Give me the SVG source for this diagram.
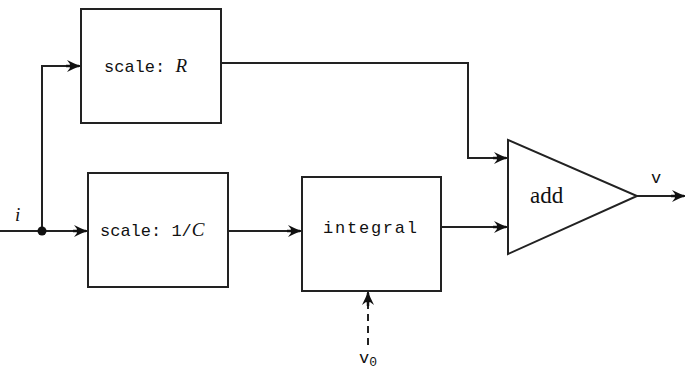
<svg xmlns="http://www.w3.org/2000/svg" width="686" height="370" viewBox="0 0 686 370">
<style>
.box{fill:#fff;stroke:#222;stroke-width:2}
.ln{fill:none;stroke:#222;stroke-width:2}
.mono{font-family:"Liberation Mono",monospace;font-size:17px;fill:#111}
.it{font-family:"Liberation Serif",serif;font-style:italic;font-size:19px;fill:#111}
.serif{font-family:"Liberation Serif",serif;font-size:23px;fill:#111}
</style>
<defs>
<marker id="ah" markerWidth="16" markerHeight="14" refX="14" refY="7" orient="auto" markerUnits="userSpaceOnUse">
<path d="M1,1 Q8,4.5 14,7 Q8,9.5 1,13 L4,9 Q3,7 4,5 Z" fill="#111"/>
<path d="M0,7 H13" stroke="#111" stroke-width="2.5"/>
</marker>
</defs>
<g id="connectors">
<path class="ln" d="M0,231 H87" marker-end="url(#ah)"/>
<path class="ln" d="M42,231 V66 H80" marker-end="url(#ah)"/>
<path class="ln" d="M228,231 H301" marker-end="url(#ah)"/>
<path class="ln" d="M221,63 H468 V158 H507" marker-end="url(#ah)"/>
<path class="ln" d="M441,227 H507" marker-end="url(#ah)"/>
<path class="ln" d="M637,196 H685" marker-end="url(#ah)"/>
<path class="ln" d="M368,345 V292" stroke-dasharray="7,5" marker-end="url(#ah)"/>
<circle cx="42" cy="231" r="4.5" fill="#111"/>
</g>
<g id="scaleR">
<rect class="box" x="81" y="9" width="140" height="114"/>
<text class="mono" x="104" y="72">scale: <tspan class="it">R</tspan></text>
</g>
<g id="scaleC">
<rect class="box" x="88" y="173" width="140" height="114"/>
<text class="mono" x="100" y="236">scale: 1/<tspan class="it">C</tspan></text>
</g>
<g id="integral">
<rect class="box" x="302" y="177" width="139" height="114"/>
<text class="mono" x="323" y="233" textLength="94">integral</text>
</g>
<g id="add">
<polygon class="box" points="508,140 637,196 508,254"/>
<text class="serif" x="530" y="203">add</text>
</g>
<g id="labels">
<text class="it" x="15" y="221">i</text>
<text class="mono" x="651" y="183">v</text>
<text class="mono" x="359" y="363">v<tspan font-size="13" dy="3">0</tspan></text>
</g>
</svg>
